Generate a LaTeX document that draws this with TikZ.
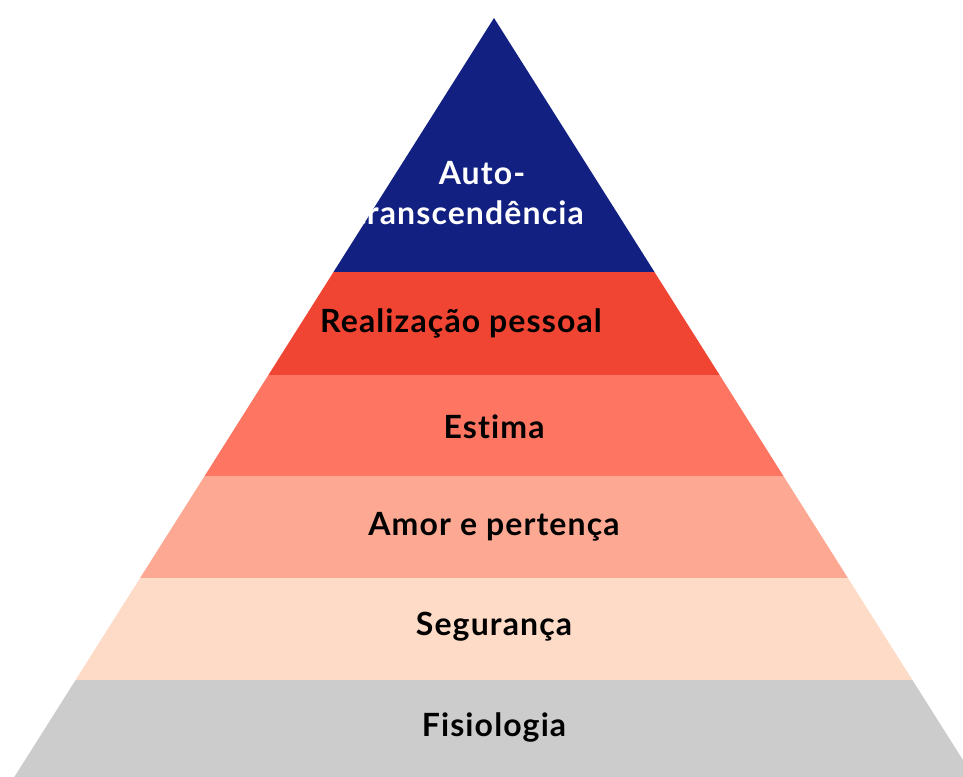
\documentclass[tikz,border=0pt]{standalone}
\usepackage{fontspec}
\setmainfont{Lato}[LetterSpace=3.5, RawFeature={-liga;-dlig;-clig}]
\definecolor{cTop}{HTML}{122082}
\definecolor{cReal}{HTML}{EF4532}
\definecolor{cEst}{HTML}{FE7562}
\definecolor{cAmor}{HTML}{FDA892}
\definecolor{cSeg}{HTML}{FEDBC6}
\definecolor{cFis}{HTML}{CCCCCC}
\tikzset{
  lbl/.style={font=\fontsize{32}{35}\selectfont\bfseries, text=black, inner sep=0pt, anchor=center},
  wlbl/.style={lbl, text=white}
}
\begin{document}
\begin{tikzpicture}[x=1pt,y=-1pt]
\useasboundingbox (0,0) rectangle (963,776);
\clip (0,0) rectangle (963,776);
\fill[cTop] (494,18) -- (333.5,272) -- (654.5,272) -- cycle;
\fill[cReal] (333.5,272) -- (268.4,375) -- (719.6,375) -- (654.5,272) -- cycle;
\fill[cEst] (268.4,375) -- (204.6,476) -- (783.4,476) -- (719.6,375) -- cycle;
\fill[cAmor] (204.6,476) -- (140.1,578) -- (847.9,578) -- (783.4,476) -- cycle;
\fill[cSeg] (140.1,578) -- (75.6,680) -- (912.4,680) -- (847.9,578) -- cycle;
\fill[cFis] (75.6,680) -- (9,785.4) -- (979,785.4) -- (912.4,680) -- cycle;
\node[wlbl] (auto) at (482,173) {Auto-};
\node[wlbl, anchor=east] (trans) at (584,213) {transcendência};
\node[lbl] (real) at (461,323) {Realização pessoal};
\node[lbl] (est) at (494,427) {Estima};
\node[lbl] (amor) at (494,527) {Amor e pertença};
\node[lbl] (seg) at (494,627) {Segurança};
\node[lbl] (fis) at (494,727) {Fisiologia};
\end{tikzpicture}
\end{document}
